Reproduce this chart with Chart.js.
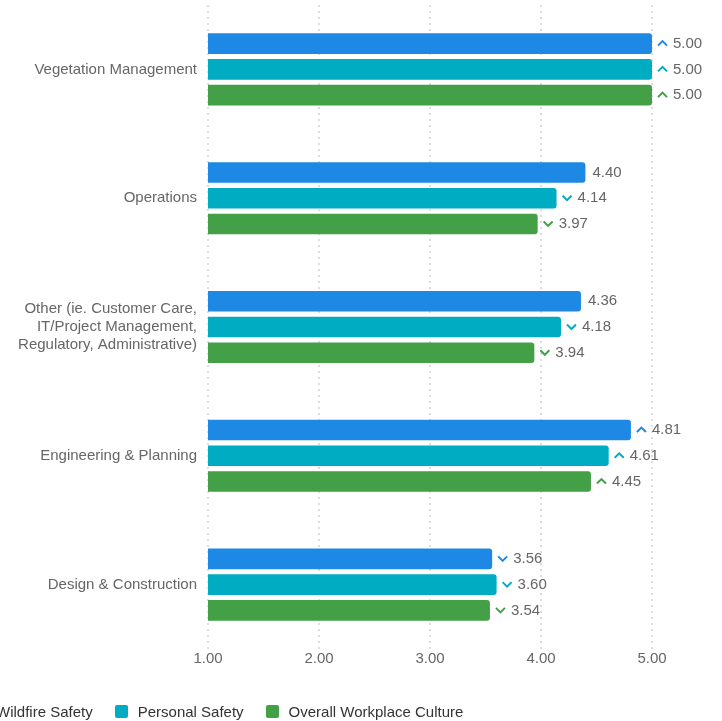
<!DOCTYPE html>
<html>
<head>
<meta charset="utf-8">
<script src="https://cdn.jsdelivr.net/npm/chart.js@4.4.1/dist/chart.umd.min.js"></script>
<style>
  html, body { margin: 0; padding: 0; background: #fff; overflow: hidden; }
  #wrap { position: relative; width: 722px; height: 721px; }
  #legend {
    position: absolute; left: -27px; top: 703px;
    display: flex; align-items: center;
    font: 15px "Liberation Sans", Arial, sans-serif; color: #333;
    white-space: nowrap;
  }
  #legend .item { display: flex; align-items: center; margin-right: 22px; }
  #legend .box { width: 13px; height: 13px; border-radius: 2px; margin-right: 10px; }
</style>
</head>
<body>
<div id="wrap">
  <canvas id="chart" width="722" height="721"></canvas>
  <div id="legend"></div>
</div>
<script>
// ── Data ─────────────────────────────────────────
const categories = [
  'Vegetation Management',
  'Operations',
  ['Other (ie. Customer Care,', 'IT/Project Management,', 'Regulatory, Administrative)'],
  'Engineering & Planning',
  'Design & Construction',
];
const seriesNames = ['Wildfire Safety', 'Personal Safety', 'Overall Workplace Culture'];
const wildfireSafety  = [5.00, 4.40, 4.36, 4.81, 3.56];
const personalSafety  = [5.00, 4.14, 4.18, 4.61, 3.60];
const workplaceCulture = [5.00, 3.97, 3.94, 4.45, 3.54];
const wildfireTrend   = ['up', '', '', 'up', 'down'];
const personalTrend   = ['up', 'down', 'down', 'up', 'down'];
const cultureTrend    = ['up', 'down', 'down', 'up', 'down'];
const xTicks = [1, 2, 3, 4, 5];

const COLORS = ['#1E88E5', '#00ACC1', '#43A047'];
const FONT = '"Liberation Sans", Arial, sans-serif';

Chart.defaults.font.family = FONT;
Chart.defaults.font.size = 15;
Chart.defaults.color = '#666';

// value labels with trend chevrons
const valueLabels = {
  id: 'valueLabels',
  afterDatasetsDraw(chart) {
    const ctx = chart.ctx;
    ctx.save();
    ctx.font = '15px ' + FONT;
    ctx.textBaseline = 'middle';
    ctx.textAlign = 'left';
    chart.data.datasets.forEach((ds, i) => {
      const meta = chart.getDatasetMeta(i);
      meta.data.forEach((bar, j) => {
        let x = bar.x + 6;
        const y = bar.y;
        const t = ds.trend[j];
        if (t) {
          ctx.strokeStyle = ds.backgroundColor;
          ctx.lineWidth = 2;
          ctx.lineJoin = 'miter';
          ctx.beginPath();
          if (t === 'up') {
            ctx.moveTo(x, y + 2); ctx.lineTo(x + 4.5, y - 2.5); ctx.lineTo(x + 9, y + 2);
          } else {
            ctx.moveTo(x, y - 2.5); ctx.lineTo(x + 4.5, y + 2); ctx.lineTo(x + 9, y - 2.5);
          }
          ctx.stroke();
          x += 15;
        } else {
          x += 1;
        }
        ctx.fillStyle = '#666';
        ctx.fillText(ds.data[j].toFixed(2), x, y);
      });
    });
    ctx.restore();
  }
};

const series = [wildfireSafety, personalSafety, workplaceCulture];
const trends = [wildfireTrend, personalTrend, cultureTrend];

new Chart(document.getElementById('chart'), {
  type: 'bar',
  data: {
    labels: categories,
    datasets: series.map((data, i) => ({
      label: seriesNames[i],
      data,
      trend: trends[i],
      backgroundColor: COLORS[i],
      borderRadius: 3,
      borderSkipped: 'start',
      categoryPercentage: 0.6,
      barPercentage: 0.8,
    }))
  },
  options: {
    indexAxis: 'y',
    responsive: false,
    animation: false,
    layout: { padding: { top: 5, right: 70, bottom: 52, left: 0 } },
    plugins: {
      legend: { display: false },
      tooltip: { enabled: false }
    },
    scales: {
      x: {
        min: 1, max: 5,
        afterBuildTicks: s => { s.ticks = xTicks.map(v => ({ value: v })); },
        ticks: { callback: v => Number(v).toFixed(2), padding: 1, color: '#666' },
        grid: { color: '#ddd', lineWidth: 2, drawTicks: false },
        border: { display: false, dash: [2, 4] },
      },
      y: {
        afterFit: s => { s.width = 208; s.paddingTop = 0; s.paddingBottom = 0; },
        ticks: { padding: 11, color: '#666' },
        grid: { display: false, drawTicks: false },
        border: { display: false },
      }
    }
  },
  plugins: [valueLabels]
});

// legend (HTML, same order as datasets)
const legend = document.getElementById('legend');
seriesNames.forEach((name, i) => {
  const item = document.createElement('div');
  item.className = 'item';
  item.innerHTML = '<span class="box" style="background:' + COLORS[i] + '"></span><span></span>';
  item.lastChild.textContent = name;
  legend.appendChild(item);
});
</script>
</body>
</html>
